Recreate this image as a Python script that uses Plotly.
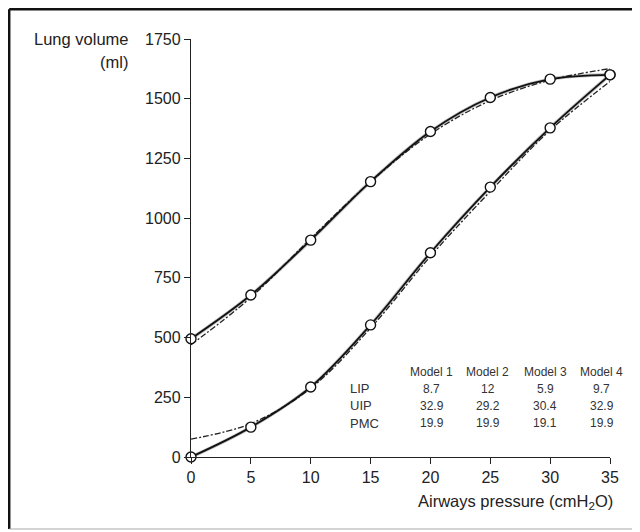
import plotly.graph_objects as go

# measured pressure steps (cmH2O)
pressure = [0, 5, 10, 15, 20, 25, 30, 35]
# inflation limb (lower) and deflation limb (upper), ml
inflation = [0, 125, 293, 553, 855, 1130, 1378, 1600]
deflation = [495, 678, 908, 1153, 1363, 1505, 1582, 1600]

# fitted model curves (dashed)
fit_inflation = [75, 140, 288, 540, 840, 1112, 1368, 1572]
fit_deflation = [470, 668, 915, 1152, 1352, 1492, 1578, 1626]

# table of inflection points
models = ["Model 1", "Model 2", "Model 3", "Model 4"]
row_names = ["LIP", "UIP", "PMC"]
lip = ["8.7", "12", "5.9", "9.7"]
uip = ["32.9", "29.2", "30.4", "32.9"]
pmc = ["19.9", "19.9", "19.1", "19.9"]

fig = go.Figure()

# light grey companion fits
for ys in (inflation, deflation):
    fig.add_trace(go.Scatter(x=pressure, y=ys, mode="lines", line_shape="spline",
                             line=dict(color="#c4c4c4", width=3.5), hoverinfo="skip",
                             showlegend=False, cliponaxis=False))
for ys in (fit_inflation, fit_deflation):
    fig.add_trace(go.Scatter(x=pressure, y=ys, mode="lines", line_shape="spline",
                             line=dict(color="#222222", width=1.3, dash="6px,2px,2px,2px"),
                             showlegend=False, cliponaxis=False))
for ys in (inflation, deflation):
    fig.add_trace(go.Scatter(x=pressure, y=ys, mode="lines+markers", line_shape="spline",
                             line=dict(color="#111111", width=1.8),
                             marker=dict(symbol="circle", size=10, color="white",
                                         line=dict(color="#111111", width=1.4)),
                             showlegend=False, cliponaxis=False))

font = "Liberation Sans, Arial, Helvetica, sans-serif"

# table
tx = [20.1, 24.8, 29.6, 34.3]
ty = [356, 285, 214, 142]
ann = []
for m, x in zip(models, tx):
    ann.append(dict(x=x, y=ty[0], text=m, showarrow=False, font=dict(size=12, color="#333")))
for name, vals, y in zip(row_names, [lip, uip, pmc], ty[1:]):
    ann.append(dict(x=13.1, y=y, text=name, showarrow=False, xanchor="left",
                    font=dict(size=13, color="#333")))
    for v, x in zip(vals, tx):
        ann.append(dict(x=x, y=y, text=v, showarrow=False, font=dict(size=12, color="#333")))

ann.append(dict(xref="paper", yref="paper", x=-0.1456, y=1.0, text="Lung volume",
                xanchor="right", yanchor="middle", showarrow=False,
                font=dict(size=16.5, color="#222")))
ann.append(dict(xref="paper", yref="paper", x=-0.1456, y=0.945, text="(ml)",
                xanchor="right", yanchor="middle", showarrow=False,
                font=dict(size=16.5, color="#222")))
ann.append(dict(xref="paper", yref="paper", x=1.012, y=-0.1077,
                text="Airways pressure (cmH<sub>2</sub>O)",
                xanchor="right", yanchor="middle", showarrow=False,
                font=dict(size=16.5, color="#222")))

# picture frame: dark top/left, light bottom
frame = [
    dict(type="line", xref="paper", yref="paper", x0=-0.4339, x1=1.08, y0=1.0713, y1=1.0713,
         line=dict(color="#111", width=2.5)),
    dict(type="line", xref="paper", yref="paper", x0=-0.4339, x1=-0.4339, y0=-0.1722, y1=1.0713,
         line=dict(color="#111", width=2.5)),
    dict(type="line", xref="paper", yref="paper", x0=-0.4339, x1=1.08, y0=-0.1722, y1=-0.1722,
         line=dict(color="#aaa", width=1.2)),
]

fig.update_layout(
    width=640, height=532,
    margin=dict(l=183, r=38, t=31, b=83),
    plot_bgcolor="white", paper_bgcolor="white",
    font=dict(family=font, color="#222"),
    annotations=ann,
    shapes=frame,
)
fig.update_xaxes(range=[0, 35], tickvals=pressure, showgrid=False, zeroline=False,
                 showline=True, linecolor="#222", linewidth=1.3, ticks="outside",
                 ticklen=6, tickcolor="#222", tickfont=dict(size=16, color="#222"))
fig.update_yaxes(range=[0, 1750], tickvals=[0, 250, 500, 750, 1000, 1250, 1500, 1750],
                 showgrid=False, zeroline=False, showline=True, linecolor="#222",
                 linewidth=1.3, ticks="outside", ticklen=6, tickcolor="#222",
                 tickfont=dict(size=16, color="#222"))

fig.write_html("out.html")
